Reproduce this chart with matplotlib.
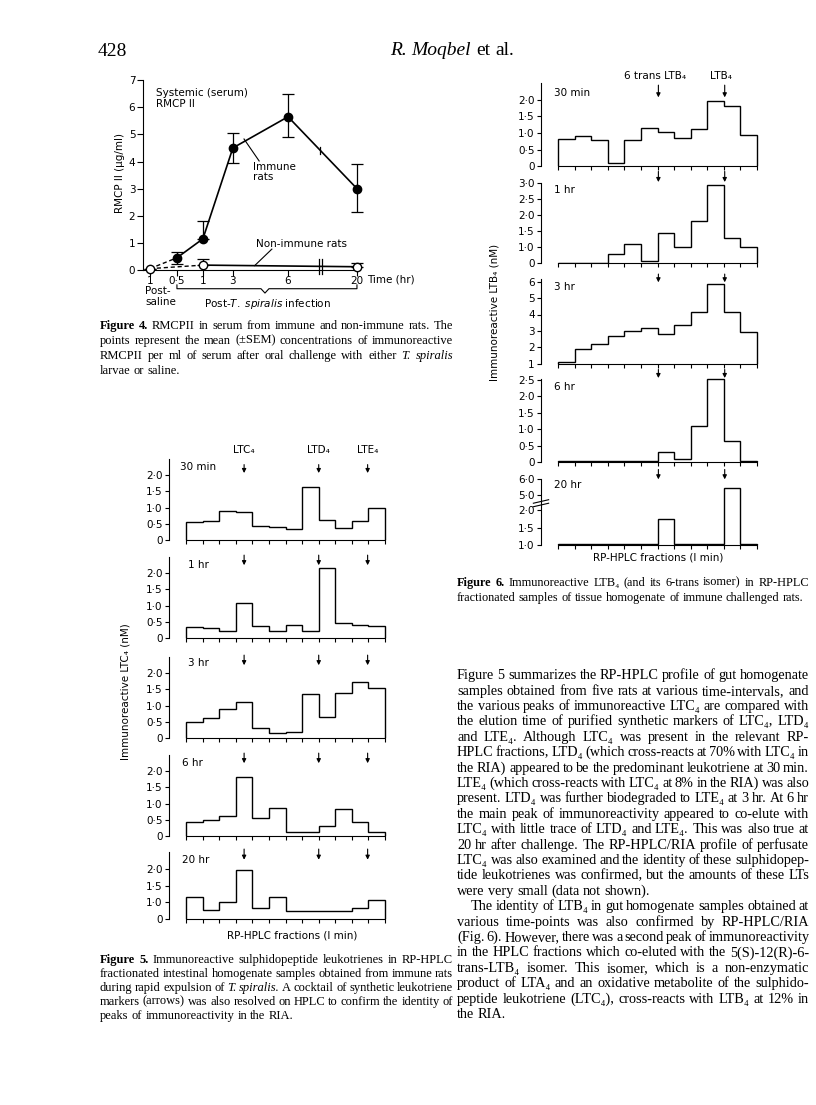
import numpy as np
import matplotlib
matplotlib.use('Agg')
import matplotlib.pyplot as plt
from matplotlib.transforms import blended_transform_factory as blend

# ---------------------------------------------------------------- data
# Figure 4 : RMCP II in serum (ug/ml)
fig4_tick_labels = ['1', '0·5', '1', '3', '6', '20']
immune_mean = [0.45, 1.15, 4.50, 5.65, 3.00]          # 0.5, 1, 3, 6, 20 hr
immune_err_low = [0.23, 0.00, 0.55, 0.75, 0.85]
immune_err_high = [0.20, 0.65, 0.55, 0.85, 0.90]
nonimmune_mean = [0.05, 0.18, 0.12]                    # saline, 1 hr, 20 hr
nonimmune_err_high = [0.00, 0.22, 0.13]

# Figure 5 : immunoreactive LTC4 (nM), 12 one-minute fractions
fig5_times = ['30 min', '1 hr', '3 hr', '6 hr', '20 hr']
ltc4_30min = [0.56, 0.59, 0.90, 0.85, 0.43, 0.39, 0.34, 1.62, 0.61, 0.37, 0.59, 0.97]
ltc4_1hr = [0.34, 0.31, 0.22, 1.07, 0.38, 0.22, 0.39, 0.23, 2.14, 0.45, 0.40, 0.36]
ltc4_3hr = [0.48, 0.61, 0.89, 1.12, 0.31, 0.15, 0.18, 1.35, 0.66, 1.38, 1.73, 1.55]
ltc4_6hr = [0.42, 0.49, 0.61, 1.82, 0.56, 0.87, 0.11, 0.11, 0.32, 0.83, 0.43, 0.13]
ltc4_20hr = [1.15, 0.55, 1.00, 1.97, 0.65, 1.16, 0.47, 0.47, 0.47, 0.47, 0.69, 1.08]
fig5_markers = ['LTC₄', 'LTD₄', 'LTE₄']
fig5_marker_fraction = [3.5, 8.0, 10.95]

# Figure 6 : immunoreactive LTB4 (nM)
fig6_times = ['30 min', '1 hr', '3 hr', '6 hr', '20 hr']
ltb4_30min = [0.82, 0.91, 0.79, 0.08, 0.79, 1.14, 1.04, 0.86, 1.12, 1.98, 1.82, 0.93]
ltb4_1hr = [0.02, 0.02, 0.02, 0.54, 1.10, 0.12, 1.44, 1.00, 1.81, 2.93, 1.29, 1.00]
ltb4_3hr = [1.10, 1.91, 2.21, 2.70, 3.00, 3.20, 2.82, 3.35, 4.14, 5.82, 4.14, 2.96]
ltb4_6hr = [0.03, 0.03, 0.03, 0.03, 0.03, 0.03, 0.31, 0.10, 1.11, 2.54, 0.63, 0.02]
ltb4_20hr = [1.02, 1.02, 1.02, 1.02, 1.04, 1.04, 1.73, 1.03, 1.03, 1.03, 5.42, 1.03]
fig6_markers = ['6 trans LTB₄', 'LTB₄']
fig6_marker_fraction = [6.05, 10.05]

# ---------------------------------------------------------------- setup
plt.rcParams['font.family'] = ['DejaVu Sans']
plt.rcParams['mathtext.fontset'] = 'dejavusans'
plt.rcParams['axes.linewidth'] = 0.8

W, H, DPI = 816, 1105, 100
fig = plt.figure(figsize=(W / DPI, H / DPI), dpi=DPI)
fig.patch.set_facecolor('white')
SERIF = ['Liberation Serif', 'DejaVu Serif']
LBL = 7.5
TICK = 7.5
CAP = 9.0
BODY = 10.3


def add_ax(x0, y_top, x1, y_bot):
    ax = fig.add_axes([x0 / W, 1 - y_bot / H, (x1 - x0) / W, (y_bot - y_top) / H])
    ax.patch.set_alpha(0)
    return ax


def ftext(x, y, s, **kw):
    kw.setdefault('va', 'center')
    kw.setdefault('fontsize', LBL)
    return fig.text(x / W, 1 - y / H, s, **kw)


renderer = fig.canvas.get_renderer()


def draw_line(y, x0, x1, line, size, justify=True):
    objs = []
    base = y + 0.30 * size * DPI / 72
    for w in line.split(' '):
        style, weight = 'normal', 'normal'
        if w.startswith('_'):
            style, w = 'italic', w[1:]
        elif w.startswith('*'):
            weight, w = 'bold', w[1:]
        objs.append(fig.text(0, 1 - base / H, w, fontsize=size, family=SERIF,
                             style=style, weight=weight, ha='left', va='baseline'))
    widths = [t.get_window_extent(renderer).width for t in objs]
    space = 0.25 * size * DPI / 72
    gap = space
    if justify and x1 is not None and len(objs) > 1:
        gap = max((x1 - x0 - sum(widths)) / (len(objs) - 1), 0.6 * space)
    x = x0
    for t, wd in zip(objs, widths):
        t.set_x(x / W)
        x += wd + gap


def draw_para(y0, dy, x0, x1, lines, size, last_left=True, indent_first=0):
    for i, ln in enumerate(lines):
        just = not (last_left and i == len(lines) - 1)
        draw_line(y0 + i * dy, x0 + (indent_first if i == 0 else 0), x1, ln, size, just)


# ---------------------------------------------------------------- page header
ftext(98, 52, '428', family=SERIF, fontsize=14, ha='left')
draw_line(49, 390, None, '_R. _Moqbel et al.', 14, justify=False)

# ---------------------------------------------------------------- Figure 4
fig4_xpos = [0.0, 1.02, 2.0, 3.13, 5.21, 7.81]   # layout of the time axis
ax4 = add_ax(143, 72, 362, 270)
ax4.set_xlim(-0.26, 8.0)
ax4.set_ylim(0, 7.3)
for s in ('top', 'right'):
    ax4.spines[s].set_visible(False)
ax4.spines['left'].set_bounds(0, 7)
ax4.spines['bottom'].set_bounds(-0.26, 7.81)
ax4.set_yticks(range(8))
ax4.set_yticklabels([str(i) for i in range(8)])
ax4.set_xticks(fig4_xpos)
ax4.set_xticklabels(fig4_tick_labels)
ax4.tick_params(direction='out', length=4, width=0.8, labelsize=TICK, pad=1.5)
ax4.tick_params(axis='x', pad=0.5)

dash = (0, (3, 2))
ax4.plot([fig4_xpos[0], fig4_xpos[1]], [nonimmune_mean[0], immune_mean[0]],
         color='k', lw=1.0, ls=dash, clip_on=False)
ax4.plot([fig4_xpos[0], fig4_xpos[2]], [nonimmune_mean[0], nonimmune_mean[1]],
         color='k', lw=1.0, ls=dash, clip_on=False)
ax4.plot(fig4_xpos[1:], immune_mean, color='k', lw=1.2)
ax4.errorbar(fig4_xpos[1:], immune_mean, yerr=[immune_err_low, immune_err_high],
             fmt='o', color='k', ms=6, capsize=4, elinewidth=0.9, capthick=0.9,
             clip_on=False)
ni_x = [fig4_xpos[0], fig4_xpos[2], fig4_xpos[5]]
ax4.plot(ni_x[1:], nonimmune_mean[1:], color='k', lw=1.2)
ax4.errorbar(ni_x, nonimmune_mean, yerr=[[0, 0, 0], nonimmune_err_high],
             fmt='o', color='k', mfc='white', ms=6, capsize=4, elinewidth=0.9,
             capthick=0.9, clip_on=False, zorder=5)
# axis break marks
for bx in (6.36, 6.50):
    ax4.plot([bx, bx], [-0.15, 0.42], color='k', lw=0.9, clip_on=False)
ax4.plot([6.43, 6.43], [4.28, 4.52], color='k', lw=0.9, clip_on=False)

ax4.text(0.23, 6.52, 'Systemic (serum)', fontsize=LBL, va='center')
ax4.text(0.23, 6.13, 'RMCP II', fontsize=LBL, va='center')
ax4.text(3.89, 3.80, 'Immune', fontsize=LBL, va='center')
ax4.text(3.89, 3.43, 'rats', fontsize=LBL, va='center')
ax4.plot([3.55, 4.12], [4.83, 4.02], color='k', lw=0.8)
ax4.text(4.0, 0.96, 'Non-immune rats', fontsize=LBL, va='center')
ax4.plot([4.6, 3.95], [0.77, 0.16], color='k', lw=0.8)
ftext(120, 173, 'RMCP II (μg/ml)', rotation=90, ha='center')
ftext(367, 279, 'Time (hr)', ha='left')
ftext(145, 291, 'Post-', ha='left')
ftext(145, 302, 'saline', ha='left')
mid = 4.34
ax4.plot([fig4_xpos[1], fig4_xpos[1], mid - 0.15, mid, mid + 0.15, fig4_xpos[5], fig4_xpos[5]],
         [-0.55, -0.69, -0.69, -0.85, -0.69, -0.69, -0.55], color='k', lw=0.8, clip_on=False)
ftext(268, 304, r'Post-$\it{T.\ spiralis}$ infection', ha='center')

draw_para(325, 15.0, 100, 453, [
    '*Figure *4. RMCPII in serum from immune and non-immune rats. The',
    'points represent the mean (±SEM) concentrations of immunoreactive',
    'RMCPII per ml of serum after oral challenge with either _T. _spiralis',
    'larvae or saline.'], CAP)


# ---------------------------------------------------------------- histogram panels
def lin(v):
    return np.asarray(v, dtype=float)


def comp_f(v):
    v = np.asarray(v, dtype=float)
    return np.where(v < 1, v * 0.5, v - 0.5)


def comp_i(d):
    d = np.asarray(d, dtype=float)
    return np.where(d < 0.5, d * 2.0, d + 0.5)


def brk_f(v):
    v = np.asarray(v, dtype=float)
    return np.where(v <= 2, (v - 1) * 2.0,
                    np.where(v < 5, 2.0 + (v - 2) * 0.2867, 2.86 + (v - 5) * 0.91))


def brk_i(d):
    d = np.asarray(d, dtype=float)
    return np.where(d <= 2, d / 2.0 + 1,
                    np.where(d < 2.86, 2 + (d - 2) / 0.2867, 5 + (d - 2.86) / 0.91))


BIN_PX = 16.58
NB = 12


def hist_panel(x_axis_px, base_px, ppu, ylim, values, spine_top, yticks, ylabels,
               arrows_x, arrow_tail, arrow_tip, scale=None):
    f = scale[0] if scale else lin
    height = float(f(ylim[1]) - f(ylim[0])) * ppu
    x1 = x_axis_px + (1.03 + NB + 0.12) * BIN_PX
    ax = add_ax(x_axis_px, base_px - height, x1, base_px)
    if scale:
        ax.set_yscale('function', functions=scale)
    ax.set_xlim(-1.03, NB + 0.12)
    ax.set_ylim(*ylim)
    for s in ('top', 'right'):
        ax.spines[s].set_visible(False)
    ax.spines['left'].set_bounds(ylim[0], spine_top)
    ax.spines['bottom'].set_bounds(0, NB)
    edges = np.arange(NB + 1)
    ax.stairs(values, edges, baseline=ylim[0], color='k', lw=1.0)
    ax.set_xticks(edges)
    ax.set_xticklabels([])
    ax.set_yticks(yticks)
    ax.set_yticklabels(ylabels)
    ax.minorticks_off()
    ax.tick_params(direction='out', length=3, width=0.8, labelsize=TICK, pad=1.5)
    for xm in arrows_x:
        ax.annotate('', xy=(xm, arrow_tip), xytext=(xm, arrow_tail),
                    arrowprops=dict(arrowstyle='-|>', color='k', lw=0.8,
                                    mutation_scale=6, shrinkA=0, shrinkB=0),
                    annotation_clip=False)
    return ax


# ---------------------------------------------------------------- Figure 5
t_lin = [0, 0.5, 1.0, 1.5, 2.0]
l_lin = ['0', '0·5', '1·0', '1·5', '2·0']
fig5_values = [ltc4_30min, ltc4_1hr, ltc4_3hr, ltc4_6hr, ltc4_20hr]
fig5_bases = [540, 638, 738, 836, 919]
fig5_label_y = [467, 565, 663, 763, 860]
fig5_label_x = [180, 188, 188, 182, 182]
ax5 = []
for i, vals in enumerate(fig5_values):
    if i == 4:
        ax = hist_panel(169, fig5_bases[i], 33.3, (0, 2.9), vals, 2.5,
                        [0, 1.0, 1.5, 2.0], ['0', '1·0', '1·5', '2·0'],
                        fig5_marker_fraction, 2.6, 2.28, scale=(comp_f, comp_i))
    else:
        ax = hist_panel(169, fig5_bases[i], 32.5, (0, 2.9), vals, 2.5, t_lin, l_lin,
                        fig5_marker_fraction, 2.55 if i else 2.32, 2.24 if i else 2.06)
    ax5.append(ax)
    ftext(fig5_label_x[i], fig5_label_y[i], fig5_times[i], ha='left')
for name, xm in zip(fig5_markers, fig5_marker_fraction):
    ax5[0].text(xm, 1 - 450 / H, name, transform=blend(ax5[0].transData, fig.transFigure),
                ha='center', va='center', fontsize=LBL)
ftext(125, 692, 'Immunoreactive LTC₄ (nM)', rotation=90, ha='center')
ftext(292, 935, 'RP-HPLC fractions (I min)', ha='center')

draw_para(959, 14.0, 100, 453, [
    '*Figure *5. Immunoreactive sulphidopeptide leukotrienes in RP-HPLC',
    'fractionated intestinal homogenate samples obtained from immune rats',
    'during rapid expulsion of _T. _spiralis. A cocktail of synthetic leukotriene',
    'markers (arrows) was also resolved on HPLC to confirm the identity of',
    'peaks of immunoreactivity in the RIA.'], CAP)

# ---------------------------------------------------------------- Figure 6
ax6 = []
a = hist_panel(541, 166, 33.0, (0, 2.9), ltb4_30min, 2.5, t_lin, l_lin,
               fig6_marker_fraction, 2.45, 2.08)
ax6.append(a)
a = hist_panel(541, 263, 32.0, (0, 3.45), ltb4_1hr, 3.0,
               [0, 1.0, 1.5, 2.0, 2.5, 3.0], ['0', '1·0', '1·5', '2·0', '2·5', '3·0'],
               fig6_marker_fraction, 3.36, 3.03, scale=(comp_f, comp_i))
ax6.append(a)
a = hist_panel(541, 364, 16.5, (1, 6.6), ltb4_3hr, 6.15,
               [1, 2, 3, 4, 5, 6], ['1', '2', '3', '4', '5', '6'],
               fig6_marker_fraction, 6.45, 5.95)
ax6.append(a)
a = hist_panel(541, 462, 32.8, (0, 2.9), ltb4_6hr, 2.53,
               [0, 0.5, 1.0, 1.5, 2.0, 2.5], ['0', '0·5', '1·0', '1·5', '2·0', '2·5'],
               fig6_marker_fraction, 2.82, 2.56)
ax6.append(a)
a = hist_panel(541, 545, 17.5, (1, 6.75), ltb4_20hr, 6.0,
               [1.0, 1.5, 2.0, 5.0, 6.0], ['1·0', '1·5', '2·0', '5·0', '6·0'],
               fig6_marker_fraction, 6.6, 5.98, scale=(brk_f, brk_i))
ax6.append(a)
# y-axis break on the 20 hr panel
tb = blend(a.transAxes, a.transData)
for yb in (3.0, 3.7):
    a.plot([-0.035, 0.035], [yb - 0.35, yb + 0.35], transform=tb, color='k', lw=0.8, clip_on=False)

fig6_label_y = [93, 190, 287, 387, 485]
for i, t in enumerate(fig6_times):
    ftext(554, fig6_label_y[i], t, ha='left')
for name, xm in zip(fig6_markers, fig6_marker_fraction):
    ax6[0].text(xm - 0.2, 1 - 76 / H, name, transform=blend(ax6[0].transData, fig.transFigure),
                ha='center', va='center', fontsize=LBL)
ftext(495, 312, 'Immunoreactive LTB₄ (nM)', rotation=90, ha='center')
ftext(658, 557, 'RP-HPLC fractions (I min)', ha='center')

draw_para(582, 15.0, 457, 809, [
    '*Figure *6. Immunoreactive LTB₄ (and its 6-trans isomer) in RP-HPLC',
    'fractionated samples of tissue homogenate of immune challenged rats.'], 8.8)

# ---------------------------------------------------------------- body text
body1 = [
    'Figure 5 summarizes the RP-HPLC profile of gut homogenate',
    'samples obtained from five rats at various time-intervals, and',
    'the various peaks of immunoreactive LTC₄ are compared with',
    'the elution time of purified synthetic markers of LTC₄, LTD₄',
    'and LTE₄. Although LTC₄ was present in the relevant RP-',
    'HPLC fractions, LTD₄ (which cross-reacts at 70% with LTC₄ in',
    'the RIA) appeared to be the predominant leukotriene at 30 min.',
    'LTE₄ (which cross-reacts with LTC₄ at 8% in the RIA) was also',
    'present. LTD₄ was further biodegraded to LTE₄ at 3 hr. At 6 hr',
    'the main peak of immunoreactivity appeared to co-elute with',
    'LTC₄ with little trace of LTD₄ and LTE₄. This was also true at',
    '20 hr after challenge. The RP-HPLC/RIA profile of perfusate',
    'LTC₄ was also examined and the identity of these sulphidopep-',
    'tide leukotrienes was confirmed, but the amounts of these LTs',
    'were very small (data not shown).']
body2 = [
    'The identity of LTB₄ in gut homogenate samples obtained at',
    'various time-points was also confirmed by RP-HPLC/RIA',
    '(Fig. 6). However, there was a second peak of immunoreactivity',
    'in the HPLC fractions which co-eluted with the 5(S)-12(R)-6-',
    'trans-LTB₄ isomer. This isomer, which is a non-enzymatic',
    'product of LTA₄ and an oxidative metabolite of the sulphido-',
    'peptide leukotriene (LTC₄), cross-reacts with LTB₄ at 12% in',
    'the RIA.']
draw_para(675, 15.4, 457, 809, body1, BODY)
draw_para(675 + 15 * 15.4, 15.4, 457, 809, body2, BODY, indent_first=14)

fig.savefig('out.png', dpi=DPI, facecolor='white')
